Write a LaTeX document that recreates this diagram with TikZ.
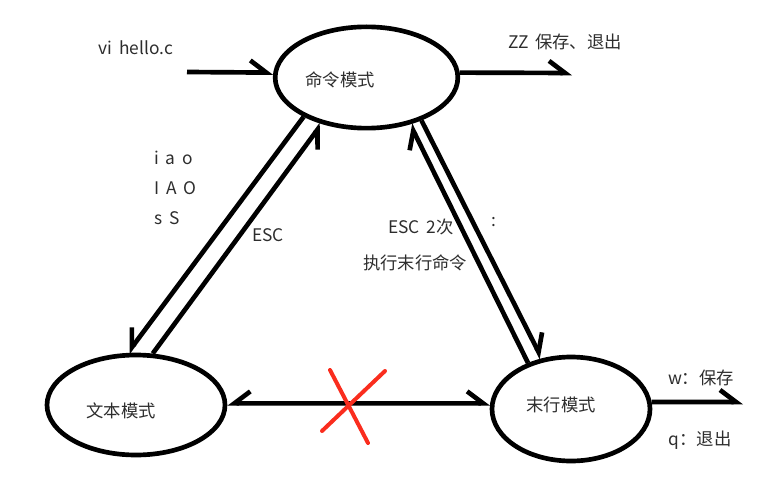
\documentclass[tikz,border=0pt]{standalone}
\usepackage{fontspec}
\setmainfont[WordSpace=1.7]{Noto Sans CJK SC}
\usepackage{tikz}
\usetikzlibrary{
  shapes.geometric,
  arrows.meta
}
\definecolor{inkgray}{RGB}{45,45,45}
\definecolor{crossred}{RGB}{250,45,30}
\tikzset{
  modenode/.style={ellipse,draw=black,line width=3.5pt,inner sep=0pt},
  modetext/.style={font=\fontsize{13}{16}\selectfont,text=inkgray,inner sep=0pt},
  cmdtext/.style={font=\fontsize{13}{16}\selectfont,text=inkgray,inner sep=1pt},
  larr/.style={line width=3.5pt,-{Straight Barb[harpoon,length=12pt,width=18pt]}},
  rarr/.style={line width=3.5pt,-{Straight Barb[harpoon,swap,length=12pt,width=18pt]}},
  dblarr/.style={line width=3.5pt,{Straight Barb[harpoon,swap,length=12pt,width=18pt]}-{Straight Barb[harpoon,length=12pt,width=18pt]}},
  crossline/.style={line width=3pt,color=crossred,line cap=round}
}

\begin{document}
\begin{tikzpicture}[x=0.75pt,y=-0.75pt]
  \useasboundingbox (0,0) rectangle (784,481);
  % the three modes
  \node[modenode,minimum width=137pt,minimum height=76pt] (cmd) at (366.5,77.5) {};
  \node[modenode,minimum width=133.5pt,minimum height=75pt] (txt) at (136,405) {};
  \node[modenode,minimum width=118.5pt,minimum height=78pt] (last) at (571,409) {};
  \node[modetext] (cmdlbl) at (340,80) {命令模式};
  \node[modetext] (txtlbl) at (121,411) {文本模式};
  \node[modetext] (lastlbl) at (561,405) {末行模式};
  \coordinate (vistart) at (187,72);
  \coordinate (zzend) at (572,73);
  \coordinate (wqend) at (743,402);
  % transitions
  \draw[larr] (vistart) -- (cmd.177);
  \draw[larr] (cmd.3) -- (zzend);
  \foreach \a/\b in {cmd.212/txt.99,txt.72/cmd.226} \draw[rarr] (\a)--(\b);
  \foreach \a/\b in {last.133/cmd.313,cmd.322/last.120,last.5/wqend} \draw[larr] (\a)--(\b);
  \draw[dblarr] (txt.1) -- (last.176);
  \draw[crossline] (330,370) -- (368,443);
  \draw[crossline] (385,371) -- (322,431);
  % key labels
  \node[cmdtext] (vi) at (136,48) {vi hello.c};
  \node[cmdtext] (zz) at (565,42) {ZZ 保存、退出};
  \node[cmdtext,anchor=west,align=left,font=\fontsize{13}{22.5}\selectfont] (ins) at (153,188) {i a o\\I A O\\s S};
  \node[cmdtext] (esc) at (268,235) {ESC};
  \node[cmdtext] (esc2) at (421,227) {ESC 2次};
  \node[cmdtext] (exec) at (415,263) {执行末行命令};
  \node[cmdtext] (colon) at (494,222) {:};
  \node[cmdtext] (wsave) at (701,378) {w：保存};
  \node[cmdtext] (qquit) at (700,440) {q：退出};
\end{tikzpicture}
\end{document}
